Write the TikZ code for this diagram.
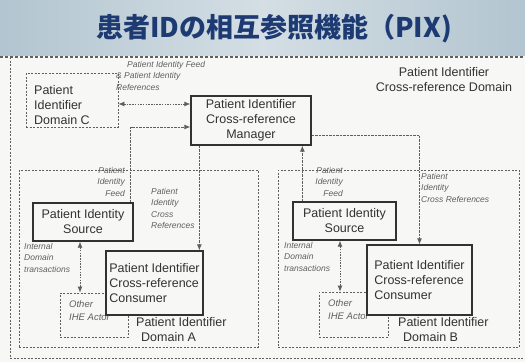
\documentclass[tikz,border=0pt]{standalone}
\usepackage{fontspec}
\setmainfont{Liberation Sans}
\newfontfamily\cjkfont{Noto Sans CJK JP}
\usetikzlibrary{arrows.meta}

\definecolor{titleblue}{RGB}{30,58,115}
\definecolor{band}{RGB}{178,197,208}
\definecolor{bandlight}{RGB}{212,222,228}
\definecolor{paper}{RGB}{247,247,245}
\definecolor{ink}{RGB}{50,50,50}
\definecolor{softink}{RGB}{95,95,95}

\newcommand\mainsize{\fontsize{12.5}{15}\selectfont}
\newcommand\notesize{\fontsize{8.5}{11.5}\selectfont}

\tikzset{
  solidbox/.style={draw=ink, line width=1.3pt, fill=paper, inner sep=0pt,
    align=center, font=\mainsize, text=ink},
  dashbox/.style={draw=softink, line width=0.8pt, dash pattern=on 2pt off 1.5pt},
  flow/.style={draw=softink, line width=0.8pt, dash pattern=on 2.5pt off 1pt,
    -{Latex[length=6pt,width=5pt]}},
  twoway/.style={draw=softink, line width=0.8pt, dash pattern=on 1.5pt off 1.2pt,
    {Latex[length=6pt,width=5pt]}-{Latex[length=6pt,width=5pt]}},
  note/.style={font=\notesize\itshape, text=softink, inner sep=0pt},
  caption/.style={font=\mainsize, text=ink, inner sep=0pt},
}

\begin{document}
\begin{tikzpicture}[x=1pt, y=-1pt]
  % page, title band and bounding box
  \fill[paper] (0,0) rectangle (525,362);
  \shade[left color=band, right color=band, middle color=bandlight] (0,0) rectangle (525,55);
  \useasboundingbox (0,0) rectangle (525,362);

  \node[font=\cjkfont\bfseries\fontsize{27}{30}\selectfont, text=titleblue]
    (title) at (274,29) {患者IDの相互参照機能（PIX)};

  % separator and outer cross-reference domain frame
  \draw[softink, line width=1.2pt, dash pattern=on 3pt off 2pt] (0,57) -- (525,57);
  \draw[dashbox] (10,57) -- (10,358) -- (530,358);

  \node[caption, align=center] (xdom) at (444,80)
    {Patient Identifier\\Cross-reference Domain};

  % domain C
  \node[dashbox, minimum width=92pt, minimum height=54pt] (domC) at (72,100) {};
  \node[caption, anchor=west, align=left] (domCtext) at (34,105)
    {Patient\\Identifier\\Domain C};

  % manager
  \node[solidbox, minimum width=120pt, minimum height=49pt] (mgr) at (251,120.5)
    {Patient Identifier\\Cross-reference\\Manager};

  \node[note, anchor=north west, align=left] (feedC) at (116,61)
    {\hspace*{11pt}Patient Identity Feed\\\& Patient Identity\\References};

  % domains A and B
  \node[dashbox, minimum width=239pt, minimum height=177pt] (domA) at (138.5,258.5) {};
  \node[dashbox, minimum width=241pt, minimum height=177pt] (domB) at (398.5,258.5) {};

  % other IHE actors
  \node[dashbox, minimum width=68pt, minimum height=44pt] (othA) at (94,315) {};
  \node[note, font=\fontsize{9.5}{13}\selectfont\itshape, anchor=north west, align=left]
    (othAtext) at (69,300) {Other\\IHE Actor};
  \node[dashbox, minimum width=69pt, minimum height=45pt] (othB) at (353.5,314.5) {};
  \node[note, font=\fontsize{9.5}{13}\selectfont\itshape, anchor=north west, align=left]
    (othBtext) at (328,299) {Other\\IHE Actor};

  % sources and consumers
  \node[solidbox, minimum width=100pt, minimum height=38pt] (srcA) at (83,222)
    {Patient Identity\\Source};
  \node[solidbox, minimum width=103pt, minimum height=38pt] (srcB) at (344.5,221)
    {Patient Identity\\Source};
  \node[solidbox, align=left, minimum width=97pt, minimum height=64pt] (conA) at (154.5,283)
    {Patient Identifier\\Cross-reference\\Consumer};
  \node[solidbox, align=left, minimum width=105pt, minimum height=70pt] (conB) at (419.5,280)
    {Patient Identifier\\Cross-reference\\Consumer};

  % domain captions
  \node[caption, anchor=north west, align=left] (domAtext) at (136,317)
    {Patient Identifier\\\hspace*{5pt}Domain A};
  \node[caption, anchor=north west, align=left] (domBtext) at (398,317)
    {Patient Identifier\\\hspace*{5pt}Domain B};

  % connector labels
  \node[note, anchor=north east, align=right] (feedA) at (125,167) {Patient\\Identity\\Feed};
  \node[note, anchor=north west, align=left] (crossA) at (151,188)
    {Patient\\Identity\\Cross\\References};
  \node[note, anchor=north east, align=right] (feedB) at (343,167) {Patient\\Identity\\Feed};
  \node[note, anchor=north west, align=left] (crossB) at (421,173)
    {Patient\\Identity\\Cross References};
  \node[note, anchor=north west, align=left] (intA) at (24,243)
    {Internal\\Domain\\transactions};
  \node[note, anchor=north west, align=left] (intB) at (284,242)
    {Internal\\Domain\\transactions};

  % connectors
  \draw[twoway] ([yshift=-4pt]domC.east) -- ([yshift=-4pt]domC.east -| mgr.west);
  \draw[flow] ([xshift=-3pt]srcA.north east) |- ([yshift=-6.5pt]mgr.west);
  \draw[flow] ([xshift=9pt]mgr.south west) -- ([xshift=9pt]mgr.south west |- conA.north);
  \draw[flow] ([yshift=-14.5pt]mgr.east) -| (conB.north);
  \draw[flow] ([xshift=10pt]srcB.north west) -- ([xshift=10pt]srcB.north west |- mgr.south);
  \draw[twoway] ([xshift=-3pt]srcA.south) -- ([xshift=-3pt]srcA.south |- othA.north);
  \draw[twoway] ([xshift=-4.5pt]srcB.south) -- ([xshift=-4.5pt]srcB.south |- othB.north);
\end{tikzpicture}
\end{document}
